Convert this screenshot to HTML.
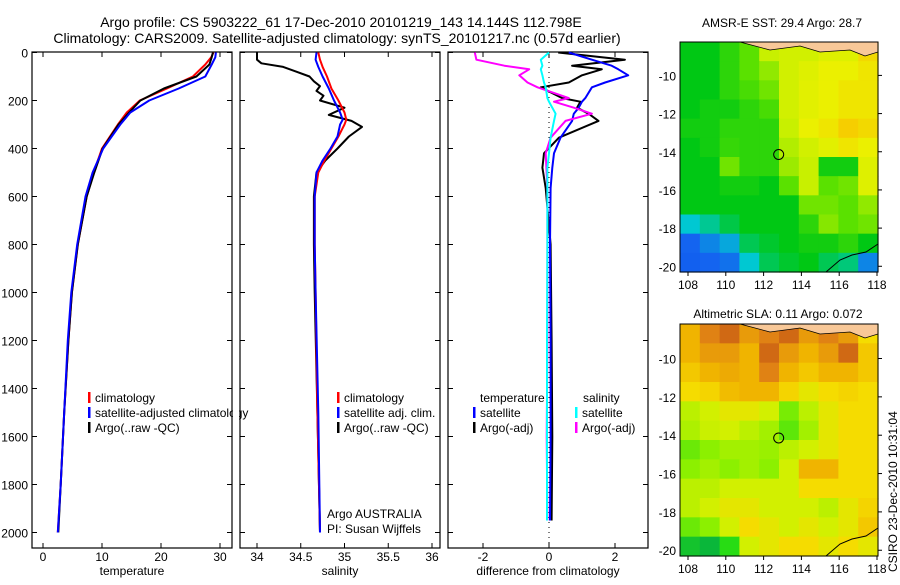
<!DOCTYPE html>
<html><head><meta charset="utf-8"><style>
body{margin:0;background:#fff;}
svg text{font-family:"Liberation Sans",sans-serif;fill:#000;}
</style></head><body>
<svg id="c" width="900" height="580" xmlns="http://www.w3.org/2000/svg">
<text x="341" y="27" font-size="14" text-anchor="middle">Argo profile: CS 5903222_61 17-Dec-2010 20101219_143 14.144S 112.798E</text>
<text x="337" y="43" font-size="14" text-anchor="middle">Climatology: CARS2009. Satellite-adjusted climatology: synTS_20101217.nc (0.57d earlier)</text>
<text x="782" y="27" font-size="12" text-anchor="middle">AMSR-E SST: 29.4 Argo: 28.7</text>
<text x="778" y="318" font-size="12" text-anchor="middle">Altimetric SLA: 0.11 Argo: 0.072</text>
<text transform="translate(897,572) rotate(-90)" font-size="12">CSIRO 23-Dec-2010 10:31:04</text>
<g id="g"></g>
</svg>
<script>
// ---------- data ----------
const depthTicks=[0,200,400,600,800,1000,1200,1400,1600,1800,2000];
const tempTicks=[0,10,20,30];
const salTicks=[34,34.5,35,35.5,36];
const diffTicks=[-2,0,2];
const tClimDepth=[0,20,50,100,150,200,250,300,400,500,600,800,1000,1200,1500,1800,2000];
const tClim=[28.9,28.5,27.5,25.4,21,16.4,14.2,12.7,10,8.6,7.4,5.9,4.9,4.3,3.6,3.0,2.5];
const tSat=[29.3,29.2,28.6,27.5,23,18,14.8,13.1,10.2,8.4,7.2,5.8,4.8,4.2,3.6,3.0,2.5];
const tArgo=[28.8,28.6,28.2,26,20.5,16.5,14.6,12.8,10.1,8.7,7.4,5.9,4.9,4.3,3.6,3.0,2.6];
const sDepth=[0,30,60,100,150,200,250,280,300,350,400,450,500,600,800,1000,1500,2000];
const sClim=[34.7,34.72,34.75,34.8,34.85,34.93,35.0,35.02,35.0,34.93,34.85,34.77,34.7,34.66,34.66,34.67,34.69,34.72];
const sSat=[34.68,34.67,34.7,34.75,34.82,34.88,34.95,34.98,34.95,34.92,34.84,34.75,34.68,34.66,34.66,34.67,34.7,34.72];
const sArgoDepth=[0,30,45,60,80,100,120,140,160,180,200,230,260,285,310,350,400,450,500,600,800,1000,1500,2000];
const sArgo=[34.0,34.0,34.05,34.3,34.45,34.6,34.65,34.72,34.68,34.76,34.72,35.0,34.82,35.08,35.2,35.05,34.92,34.78,34.68,34.65,34.65,34.66,34.69,34.72];
const dDepth=[0,30,55,70,95,125,145,190,205,230,255,285,355,420,480,565,800,1200,1600,1950];
const dTArgo=[0.28,2.3,0.7,1.6,1.0,0.6,-0.25,0.4,0.95,0.85,1.2,1.5,0.3,-0.15,-0.2,-0.1,0.05,0.08,0.1,0.08];
const dTSat=[0.6,1.3,1.9,2.1,2.4,1.7,1.3,1.1,1.0,0.9,0.75,0.7,0.35,0.15,0.1,0.05,0.03,0.05,0.05,0.03];
const dSArgo=[-2.25,-2.2,-1.35,-0.6,-0.9,-0.65,-0.35,0.6,0.15,0.75,1.3,0.5,0.05,-0.1,-0.08,-0.05,-0.05,-0.05,-0.07,-0.05];
const dSSat=[0,-0.25,-0.2,-0.25,-0.2,-0.15,-0.1,-0.05,0,0.1,0.2,0.15,0.05,0,-0.05,-0.05,-0.05,-0.06,-0.06,-0.06];
const lonTicks=[108,110,112,114,116,118];
const latTicks=[-10,-12,-14,-16,-18,-20];
const sstGrid=[
[.5,.5,.55,.6,.7,.72,.72,.75,.75,.82],
[.5,.5,.55,.6,.65,.72,.75,.78,.78,.8],
[.5,.5,.55,.58,.62,.72,.76,.78,.8,.8],
[.5,.52,.52,.55,.58,.72,.76,.78,.8,.8],
[.52,.52,.55,.55,.55,.7,.78,.8,.84,.82],
[.5,.52,.56,.55,.55,.68,.72,.76,.8,.78],
[.5,.5,.62,.55,.55,.66,.7,.52,.52,.75],
[.5,.5,.52,.52,.5,.6,.7,.6,.62,.75],
[.5,.5,.5,.5,.5,.5,.62,.62,.6,.65],
[.35,.4,.46,.5,.5,.5,.55,.64,.6,.62],
[.2,.25,.3,.45,.48,.5,.52,.52,.55,.5],
[.18,.2,.22,.35,.45,.48,.5,.45,.42,.25]];
const slaGrid=[
[.7,.8,.85,.75,.8,.85,.75,.8,.75,.6],
[.7,.75,.75,.7,.85,.75,.7,.75,.85,.65],
[.65,.7,.72,.7,.8,.7,.65,.7,.7,.65],
[.6,.62,.68,.7,.7,.62,.55,.6,.62,.6],
[.45,.5,.55,.55,.5,.32,.45,.55,.6,.6],
[.42,.48,.5,.45,.4,.28,.4,.55,.6,.6],
[.3,.35,.4,.4,.38,.45,.5,.55,.6,.6],
[.35,.4,.35,.4,.35,.5,.7,.7,.6,.6],
[.45,.45,.5,.5,.5,.5,.6,.6,.6,.6],
[.45,.5,.55,.55,.5,.5,.5,.45,.55,.62],
[.3,.35,.5,.6,.55,.5,.55,.5,.55,.65],
[.1,.05,.2,.5,.55,.6,.6,.55,.6,.55]];
const argoLon=112.798, argoLat=-14.144;
// ---------- helpers ----------
const NS='http://www.w3.org/2000/svg', G=document.getElementById('g');
function mk(t,a,p){const e=document.createElementNS(NS,t);for(const k in a)e.setAttribute(k,a[k]);(p||G).appendChild(e);return e;}
const yD=d=>52.5+d*0.24;
function panel(x0,x1,xs,ticks,label,name,leftLabels){
  const b=mk('rect',{x:x0,y:52,width:x1-x0,height:496,fill:'none',stroke:'#000','stroke-width':1.2});
  
  
  depthTicks.forEach(d=>{mk('line',{x1:x0,x2:x0+5,y1:yD(d),y2:yD(d),stroke:'#000'});mk('line',{x1:x1-5,x2:x1,y1:yD(d),y2:yD(d),stroke:'#000'});
    if(leftLabels){const t=mk('text',{x:x0-4,y:yD(d)+5,'font-size':12,'text-anchor':'end'});t.textContent=d;
      
      }});
  ticks.forEach(v=>{const x=xs(v);mk('line',{x1:x,x2:x,y1:52,y2:57,stroke:'#000'});mk('line',{x1:x,x2:x,y1:543,y2:548,stroke:'#000'});
    const t=mk('text',{x:x,y:561,'font-size':12,'text-anchor':'middle'});t.textContent=v;
    
    });
  const t=mk('text',{x:(x0+x1)/2,y:575,'font-size':12,'text-anchor':'middle'});t.textContent=label;
  
  
}
function line(xs,vals,depths,col,w,name){
  const pts=vals.map((v,i)=>xs(v).toFixed(1)+','+yD(depths[i]).toFixed(1)).join(' ');
  const p=mk('polyline',{points:pts,fill:'none',stroke:col,'stroke-width':w,'stroke-linejoin':'round'});
  
  
}
function legend(x,y,col,txt){
  mk('rect',{x:x,y:y-10,width:2.5,height:11,fill:col});
  const t=mk('text',{x:x+7,y:y,'font-size':12});t.textContent=txt;
  
  
}
// ---------- panels ----------
const xT=v=>43+v*5.9, xS=v=>257+(v-34)*87.5, xDf=v=>549+v*33;
panel(32,232,xT,tempTicks,'temperature','temperature-panel',true);
line(xT,tClim,tClimDepth,'#f00',2,'temp-climatology-line');
line(xT,tArgo,tClimDepth,'#000',2,'temp-argo-line');
line(xT,tSat,tClimDepth,'#00f',2,'temp-satellite-line');
legend(88,402,'#f00','climatology');legend(88,417,'#00f','satellite-adjusted climatology');legend(88,432,'#000','Argo(..raw -QC)');
mk('rect',{x:233,y:395,width:6,height:30,fill:'#fff'});
panel(240,440,xS,salTicks,'salinity','salinity-panel',false);
line(xS,sArgo,sArgoDepth,'#000',2,'sal-argo-line');
line(xS,sClim,sDepth,'#f00',2,'sal-climatology-line');
line(xS,sSat,sDepth,'#00f',2,'sal-satellite-line');
legend(337,402,'#f00','climatology');legend(337,417,'#00f','satellite adj. clim.');legend(337,432,'#000','Argo(..raw -QC)');
[['Argo AUSTRALIA',518],['PI: Susan Wijffels',533]].forEach(a=>{const t=mk('text',{x:327,y:a[1],'font-size':12});t.textContent=a[0];
  
  });
panel(448,648,xDf,diffTicks,'difference from climatology','difference-panel',false);
mk('line',{x1:xDf(0),x2:xDf(0),y1:52,y2:548,stroke:'#000','stroke-dasharray':'1 4'});
line(xDf,dTArgo,dDepth,'#000',2,'diff-temp-argo-line');
line(xDf,dTSat,dDepth,'#00f',2,'diff-temp-satellite-line');
line(xDf,dSArgo,dDepth,'#f0f',2,'diff-sal-argo-line');
line(xDf,dSSat,dDepth,'#0ff',2,'diff-sal-satellite-line');
{const t=mk('text',{x:480,y:402,'font-size':12});t.textContent='temperature';}
{const t=mk('text',{x:583,y:402,'font-size':12});t.textContent='salinity';}
legend(473,417,'#00f','satellite');legend(473,432,'#000','Argo(-adj)');
legend(575,417,'#0ff','satellite');legend(575,432,'#f0f','Argo(-adj)');
// ---------- maps ----------
function lerpCol(stops,v){for(let i=1;i<stops.length;i++){if(v<=stops[i][0]||i==stops.length-1){const a=stops[i-1],b=stops[i];let f=(v-a[0])/(b[0]-a[0]);f=Math.max(0,Math.min(1,f));
  const ca=a[1],cb=b[1];return 'rgb('+[0,1,2].map(k=>Math.round(ca[k]+(cb[k]-ca[k])*f)).join(',')+')';}}}
const sstStops=[[0,[0,60,230]],[.2,[20,100,240]],[.35,[0,200,210]],[.5,[0,200,20]],[.6,[90,225,0]],[.7,[200,240,0]],[.78,[235,240,0]],[.85,[248,200,0]],[1,[240,140,0]]];
const slaStops=[[0,[0,170,70]],[.2,[40,220,20]],[.35,[140,240,0]],[.5,[210,240,0]],[.6,[245,220,0]],[.7,[240,180,0]],[.8,[224,130,20]],[.9,[192,80,20]]];
function map(top,bot,latTop,grid,stops,name){
  const x0=680,x1=878,lx=v=>688+(v-108)*18.9;
  const py=(bot-top)/(latTop+20.3), ly=v=>top+(latTop-v)*py;
  const g=mk('g',{});
  
  
  const rows=grid.length,cols=grid[0].length,cw=(x1-x0)/cols,ch=(bot-top)/rows;
  grid.forEach((r,i)=>r.forEach((v,j)=>{const c=mk('rect',{x:x0+j*cw,y:top+i*ch,width:cw+0.6,height:ch+0.6,fill:lerpCol(stops,v)},g);
    
    }));
  mk('path',{d:`M740 ${top} L770 ${top+8} L800 ${top+4} L820 ${top+10} L850 ${top+8} L865 ${top+14} L${x1} ${top+10} L${x1} ${top} Z`,fill:'#f8c898',stroke:'#000','stroke-width':0.8},g);
  mk('path',{d:`M826 ${bot} L840 ${bot-12} L852 ${bot-17} L866 ${bot-20} L${x1} ${bot-28}`,fill:'none',stroke:'#000','stroke-width':1},g);
  mk('rect',{x:x0,y:top,width:x1-x0,height:bot-top,fill:'none',stroke:'#000'},g);
  latTicks.forEach(v=>{const y=ly(v);mk('line',{x1:x1,x2:x1+4,y1:y,y2:y,stroke:'#000'},g);
    const t=mk('text',{x:x0-4,y:y+5,'font-size':12,'text-anchor':'end'},g);t.textContent=v;
    
    });
  lonTicks.forEach(v=>{const x=lx(v);mk('line',{x1:x,x2:x,y1:bot,y2:bot+4,stroke:'#000'},g);
    const t=mk('text',{x:x,y:bot+17,'font-size':12,'text-anchor':'middle'},g);t.textContent=v;
    
    });
  const m=mk('circle',{cx:lx(argoLon),cy:ly(argoLat),r:5,fill:'none',stroke:'#000','stroke-width':1},g);
  
  
}
map(42,272,-8.25,sstGrid,sstStops,'sst-map');
map(324,556,-8.2,slaGrid,slaStops,'sla-map');
</script>
</body></html>
